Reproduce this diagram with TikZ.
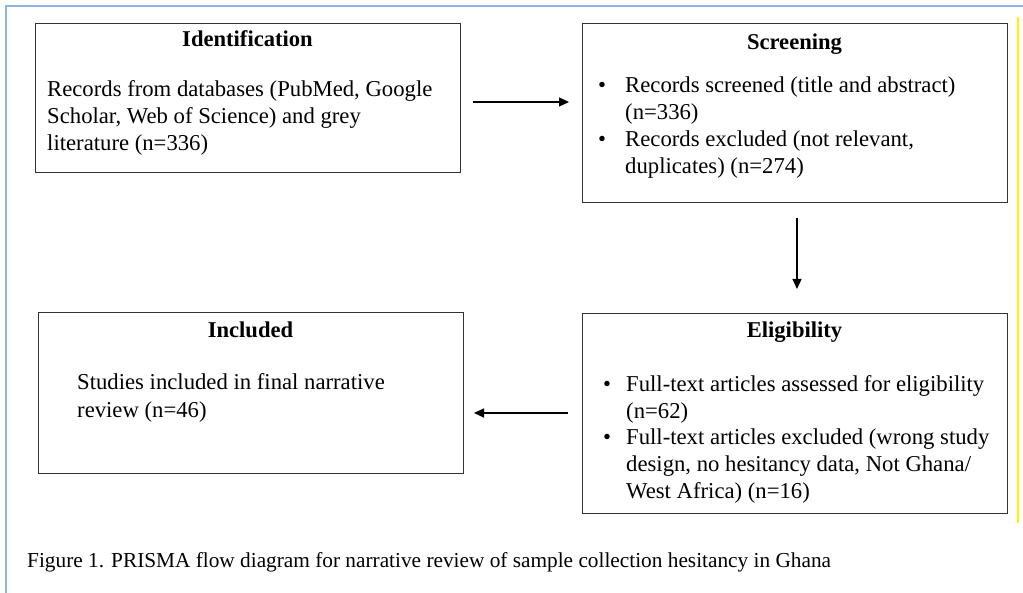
\documentclass[tikz,border=0pt]{standalone}
\usepackage{fontspec}
\setmainfont{Liberation Serif}
\usetikzlibrary{arrows.meta}
\definecolor{framebl}{HTML}{8DB4E2}
\definecolor{boxgray}{HTML}{333333}
\begin{document}
\begin{tikzpicture}[x=1pt,y=-1pt,
  box/.style={draw=boxgray,line width=1.3pt,rectangle,inner sep=0pt,anchor=north west,minimum width=425pt},
  ttl/.style={font=\fontsize{22.6}{27}\selectfont\bfseries,inner sep=0pt,anchor=base},
  txt/.style={font=\fontsize{22.7}{27}\selectfont,inner sep=0pt,anchor=base west},
  bul/.style={font=\fontsize{22.7}{27}\selectfont,inner sep=0pt,anchor=base},
  captxt/.style={font=\fontsize{21.3}{25}\selectfont,inner sep=0pt,anchor=base west},
  arr/.style={draw=black,line width=1.3pt,-{Triangle[length=10pt,width=9pt]}}]
\useasboundingbox (0,0) rectangle (1023,593);
% outer frame
\draw[framebl,line width=1.5pt] (6,593) -- (6,6) -- (1023,6);
\draw[yellow,line width=2pt] (1018,17) -- (1018,523);
% boxes
\node[box,minimum height=149pt] (ident) at (35,23) {};
\node[box,minimum height=179pt] (screen) at (582,23) {};
\node[box,minimum height=200pt] (elig) at (582,313) {};
\node[box,minimum height=161pt] (incl) at (38,312) {};
% titles
\node[ttl] (identT) at (247.5,47) {Identification};
\node[ttl] (screenT) at (794.5,50) {Screening};
\node[ttl] (eligT) at (794.5,338) {Eligibility};
\node[ttl] (inclT) at (250.5,338) {Included};
% Identification text
\foreach \t [count=\i] in {{Records from databases (PubMed, Google},{Scholar, Web of Science) and grey},{literature (n=336)}}
  \node[txt] (id\i) at (47,{97+27*(\i-1)}) {\t};
% Screening text
\node[bul] (sb1) at (602,93) {•};
\node[bul] (sb2) at (602,147) {•};
\foreach \t [count=\i] in {{Records screened (title and abstract)},{(n=336)},{Records excluded (not relevant,},{duplicates) (n=274)}}
  \node[txt] (sc\i) at (625,{93+26.7*(\i-1)}) {\t};
% Eligibility text
\node[bul] (eb1) at (607,392) {•};
\node[bul] (eb2) at (607,445) {•};
\foreach \t [count=\i] in {{Full-text articles assessed for eligibility},{(n=62)},{Full-text articles excluded (wrong study},{design, no hesitancy data, Not Ghana/},{West Africa) (n=16)}}
  \node[txt] (el\i) at (626,{392+26.5*(\i-1)}) {\t};
% Included text
\foreach \t [count=\i] in {{Studies included in final narrative},{review (n=46)}}
  \node[txt] (in\i) at (77,{390+27.5*(\i-1)}) {\t};
% caption
\node[captxt] (caption) at (27,567) {Figure 1. PRISMA flow diagram for narrative review of sample collection hesitancy in Ghana};
% connectors
\coordinate (a1s) at (473,102);
\coordinate (a1e) at (569,102);
\coordinate (a2s) at (797,218);
\coordinate (a2e) at (797,289);
\coordinate (a3s) at (568,413);
\coordinate (a3e) at (474,413);
\draw[arr] (a1s) -- (a1e);
\draw[arr] (a2s) -- (a2e);
\draw[arr] (a3s) -- (a3e);
\end{tikzpicture}
\end{document}
